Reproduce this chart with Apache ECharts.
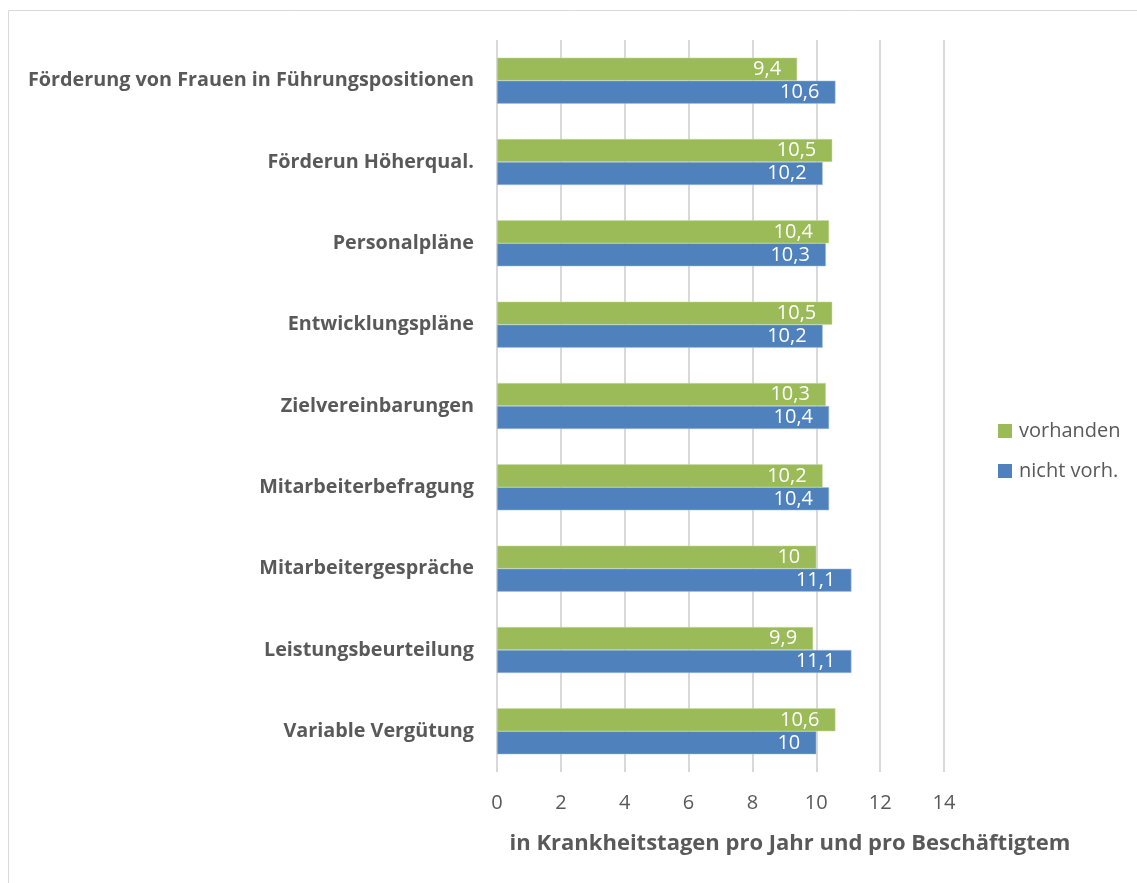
<!DOCTYPE html>
<html>
<head>
<meta charset="utf-8">
<script src="https://cdn.jsdelivr.net/npm/echarts@6/dist/echarts.min.js"></script>
<style>
html,body{margin:0;padding:0;background:#fff;}
#chart{width:1137px;height:883px;}
</style>
</head>
<body>
<div id="chart"></div>
<script>
const categories = [
  "Förderung von Frauen in Führungspositionen",
  "Förderun Höherqual.",
  "Personalpläne",
  "Entwicklungspläne",
  "Zielvereinbarungen",
  "Mitarbeiterbefragung",
  "Mitarbeitergespräche",
  "Leistungsbeurteilung",
  "Variable Vergütung"
];
const vorhanden = [9.4, 10.5, 10.4, 10.5, 10.3, 10.2, 10, 9.9, 10.6];
const nichtVorh = [10.6, 10.2, 10.3, 10.2, 10.4, 10.4, 11.1, 11.1, 10];
const seriesNames = ["vorhanden", "nicht vorh."];
const xTicks = [0, 2, 4, 6, 8, 10, 12, 14];
const axisTitle = "in Krankheitstagen pro Jahr und pro Beschäftigtem";

const FONT = "'Open Sans', 'Liberation Sans', sans-serif";
const fmt = v => String(v).replace('.', ',');
const chart = echarts.init(document.getElementById('chart'), null, {renderer: 'canvas'});
const labelCfg = {
  show: true, position: 'insideRight', distance: 16,
  color: '#ffffff', fontFamily: FONT, fontSize: 20,
  formatter: p => fmt(p.value)
};
chart.setOption({
  animation: false,
  backgroundColor: '#ffffff',
  graphic: [{
    type: 'rect', shape: {x: 8.5, y: 10.5, width: 1300, height: 1000},
    style: {fill: 'none', stroke: '#d9d9d9', lineWidth: 1}, silent: true, z: -1
  }],
  title: {
    text: axisTitle, left: 785, top: 828, textAlign: 'center',
    textStyle: {fontFamily: FONT, fontSize: 22, fontWeight: 'bold', color: '#595959'}
  },
  legend: {
    orient: 'vertical', left: 993, top: 416, itemGap: 20,
    itemWidth: 14, itemHeight: 14, icon: 'rect',
    itemStyle: {borderWidth: 0},
    data: seriesNames,
    textStyle: {fontFamily: FONT, fontSize: 20, color: '#595959', padding: [0,0,0,2]}
  },
  grid: {left: 497, top: 40, width: 447, height: 732, containLabel: false},
  xAxis: {
    type: 'value', min: xTicks[0], max: xTicks[xTicks.length-1], interval: 2,
    axisLine: {show: false}, axisTick: {show: false},
    splitLine: {lineStyle: {color: '#d9d9d9', width: 2}},
    axisLabel: {margin: 21, fontFamily: FONT, fontSize: 20, color: '#595959'}
  },
  yAxis: {
    type: 'category', data: categories, inverse: true,
    axisLine: {show: false}, axisTick: {show: false},
    axisLabel: {margin: 23, fontFamily: FONT, fontSize: 19.8, fontWeight: 'bold', color: '#595959'}
  },
  series: [
    {name: seriesNames[0], type: 'bar', data: vorhanden, barWidth: 23, barGap: '0%',
     itemStyle: {color: '#9BBB59', borderColor: '#c9dcab', borderWidth: 0.5}, label: labelCfg},
    {name: seriesNames[1], type: 'bar', data: nichtVorh, barWidth: 23,
     itemStyle: {color: '#4F81BD', borderColor: '#a7c0de', borderWidth: 0.5}, label: labelCfg}
  ]
});
</script>
</body>
</html>
